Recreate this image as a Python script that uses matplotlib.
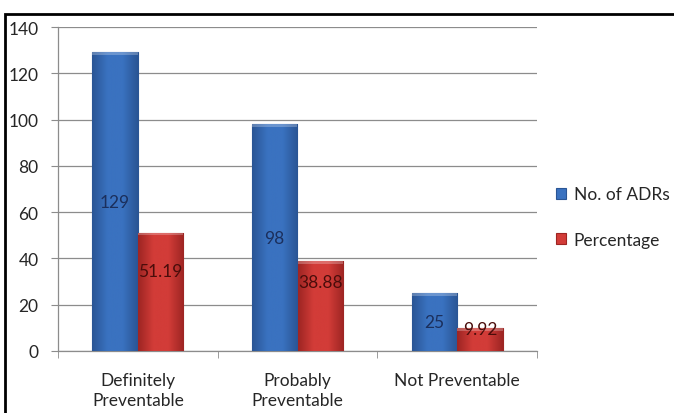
import matplotlib.pyplot as plt
import numpy as np
from matplotlib.patches import Rectangle
from matplotlib.colors import LinearSegmentedColormap

plt.rcParams['font.family'] = ['Lato', 'DejaVu Sans']

categories = ['Definitely\nPreventable', 'Probably\nPreventable', 'Not Preventable']
adrs = [129, 98, 25]
percentage = [51.19, 38.88, 9.92]
# heights where the percentage labels sit inside the red bars
pct_label_y = [34.5, 30.0, 9.5]

blue = '#3a72c0'
red = '#d23c38'

fig = plt.figure(figsize=(6.74, 4.14), dpi=100)
ax = fig.add_axes([58/674, 1-352/414, (537-58)/674, (352-28)/414])

x = np.arange(len(categories))
w = 0.286


def shaded_bars(xs, hs, color, edge, label):
    bars = ax.bar(xs, hs, width=w, color=color, edgecolor=edge, linewidth=0.8,
                  label=label, zorder=3)
    cmap = LinearSegmentedColormap.from_list('shade', [edge, color, color, edge])
    grad = np.linspace(0, 1, 64).reshape(1, -1)
    for b in bars:
        x0, y0 = b.get_x(), b.get_y()
        im = ax.imshow(grad, cmap=cmap, aspect='auto', zorder=3.5,
                       extent=[x0, x0 + b.get_width(), y0, y0 + b.get_height()])
        im.set_clip_path(b)
        # lighter cap on top of each bar
        ax.add_patch(Rectangle((x0, b.get_height() - 1.2), b.get_width(), 1.2,
                               color='white', alpha=0.25, lw=0, zorder=4))
    return bars


shaded_bars(x - w/2, adrs, blue, '#2a5595', 'No. of ADRs')
shaded_bars(x + w/2, percentage, red, '#9e2523', 'Percentage')

for i in range(len(categories)):
    ax.text(x[i] - w/2, adrs[i]/2, str(adrs[i]), ha='center', va='center',
            fontsize=12.5, color='#1b2f5c', zorder=5)
    ax.text(x[i] + w/2, pct_label_y[i], '%.2f' % percentage[i], ha='center',
            va='center', fontsize=12.5, color='#4a0d0b', zorder=5)

ax.set_xlim(-0.5, len(categories) - 0.5)
ax.set_ylim(0, 140)
ax.set_yticks(np.arange(0, 141, 20))
ax.yaxis.grid(True, color='#8c8c8c', linewidth=0.9, zorder=0)
ax.set_axisbelow(True)

ax.set_xticks(x)
ax.set_xticklabels(categories, linespacing=1.3)
ax.set_xticks(np.arange(-0.5, len(categories)), minor=True)
ax.tick_params(axis='x', which='major', length=0, pad=15, labelsize=12.5,
               labelcolor='#262626')
ax.tick_params(axis='x', which='minor', length=5, color='#8c8c8c')
ax.tick_params(axis='y', length=5, color='#8c8c8c', pad=9, labelsize=12.5,
               labelcolor='#262626')

for s in ['top', 'right']:
    ax.spines[s].set_visible(False)
for s in ['left', 'bottom']:
    ax.spines[s].set_color('#8c8c8c')
    ax.spines[s].set_linewidth(0.9)

leg = fig.legend(loc='center left', bbox_to_anchor=(540/674, 1-218/414),
                 frameon=False, fontsize=12.5, labelspacing=1.7,
                 handlelength=0.6, handleheight=0.6, handletextpad=0.45)
for t in leg.get_texts():
    t.set_color('#262626')

# outer frame around the chart area
fig.patches.append(Rectangle((5/674, -0.1), 2, 1.1 - 15/414,
                             transform=fig.transFigure, fill=False,
                             edgecolor='black', linewidth=2))

fig.savefig('out.png', dpi=100)
